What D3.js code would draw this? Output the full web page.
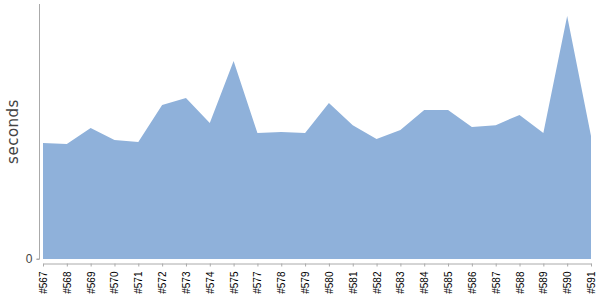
<!DOCTYPE html>
<html>
<head>
<meta charset="utf-8">
<script src="https://cdn.jsdelivr.net/npm/d3@7"></script>
<style>
  body { margin: 0; background: #fff; }
  svg { font-family: "DejaVu Sans", sans-serif; }
</style>
</head>
<body>
<script>
// build numbers and their durations (seconds)
const builds = ["#567", "#568", "#569", "#570", "#571", "#572", "#573", "#574", "#575", "#577",
  "#578", "#579", "#580", "#581", "#582", "#583", "#584", "#585", "#586", "#587",
  "#588", "#589", "#590", "#591"];
const durations = [45.5, 45.1, 51.4, 46.7, 45.9, 60.4, 63.1, 53.3, 77.6, 49.4,
  49.8, 49.4, 61.2, 52.5, 47.1, 50.6, 58.4, 58.4, 51.8, 52.5,
  56.5, 49.4, 95.3, 48.2];
const yTicks = [0];

const data = builds.map((b, i) => ({ build: b, value: durations[i] }));

const width = 600, height = 300;
const svg = d3.select("body").append("svg")
    .attr("width", width)
    .attr("height", height);

const x = d3.scalePoint()
    .domain(builds)
    .range([43, 591]);

const y = d3.scaleLinear()
    .domain([0, 100])
    .range([259, 4]);

const area = d3.area()
    .x(d => x(d.build))
    .y0(y(0))
    .y1(d => y(d.value));

svg.append("path")
    .datum(data)
    .attr("fill", "#8fb1da")
    .attr("d", area);

// y axis
const yAxis = svg.append("g")
    .attr("transform", "translate(39.5,0)")
    .call(d3.axisLeft(y).tickValues(yTicks).tickSize(3).tickPadding(4));
yAxis.select(".domain")
    .attr("stroke", "#aaa")
    .attr("d", `M-3,${y(0)}H0V${y(100)}`);
yAxis.selectAll(".tick line").attr("stroke", "#aaa");
yAxis.selectAll(".tick text")
    .attr("fill", "#444")
    .style("font-size", "12px");

// x axis
const xAxis = svg.append("g")
    .attr("transform", "translate(0,263.5)")
    .call(d3.axisBottom(x).tickSize(3).tickSizeOuter(0));
xAxis.select(".domain").attr("stroke", "#aaa");
xAxis.selectAll(".tick line").attr("stroke", "#aaa");
xAxis.selectAll(".tick text")
    .attr("fill", "#000")
    .style("font-size", "10px")
    .attr("transform", "rotate(-90)")
    .attr("text-anchor", "end")
    .attr("x", -8)
    .attr("y", 0)
    .attr("dy", "0.35em");

svg.append("text")
    .attr("transform", `translate(18,${(y(0) + y(100)) / 2}) rotate(-90)`)
    .attr("text-anchor", "middle")
    .attr("fill", "#444")
    .style("font-size", "15px")
    .style("letter-spacing", "0.5px")
    .text("seconds");
</script>
</body>
</html>
